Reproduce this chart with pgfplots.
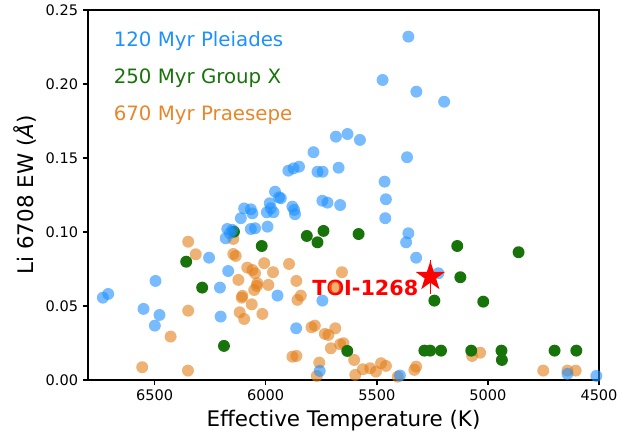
\documentclass[border=0pt]{standalone}
\usepackage{pgfplots}
\pgfplotsset{compat=1.18}
\usepackage{fontspec}
\setmainfont{DejaVu Sans}

\definecolor{pleiades}{RGB}{30,144,255}
\definecolor{groupx}{RGB}{24,116,10}
\definecolor{praesepe}{RGB}{226,126,24}
\definecolor{praesepetext}{RGB}{232,134,42}

% filled five-point star, like matplotlib's '*'
\pgfdeclareplotmark{fstar}{%
  \pgfpathmoveto{\pgfpointpolar{90}{\pgfplotmarksize}}%
  \pgfpathlineto{\pgfpointpolar{126}{0.382\pgfplotmarksize}}%
  \pgfpathlineto{\pgfpointpolar{162}{\pgfplotmarksize}}%
  \pgfpathlineto{\pgfpointpolar{198}{0.382\pgfplotmarksize}}%
  \pgfpathlineto{\pgfpointpolar{234}{\pgfplotmarksize}}%
  \pgfpathlineto{\pgfpointpolar{270}{0.382\pgfplotmarksize}}%
  \pgfpathlineto{\pgfpointpolar{306}{\pgfplotmarksize}}%
  \pgfpathlineto{\pgfpointpolar{342}{0.382\pgfplotmarksize}}%
  \pgfpathlineto{\pgfpointpolar{18}{\pgfplotmarksize}}%
  \pgfpathlineto{\pgfpointpolar{54}{0.382\pgfplotmarksize}}%
  \pgfpathclose\pgfusepathqfill}

\begin{document}
\begin{tikzpicture}
\useasboundingbox (-63.36bp,-41.76bp) rectangle (396.8bp,273.6bp);
\begin{axis}[
  scale only axis,
  width=368bp, height=266.4bp,
  x dir=reverse,
  xmin=4500, xmax=6800,
  ymin=0, ymax=0.25,
  xtick={4500,5000,5500,6000,6500},
  ytick={0,0.05,0.1,0.15,0.2,0.25},
  xtick pos=bottom, ytick pos=left,
  tick align=outside,
  major tick length=3.6bp,
  every tick/.style={black, line width=1bp},
  axis line style={line width=1.8bp},
  xticklabel style={/pgf/number format/1000 sep={}},
  yticklabel style={/pgf/number format/.cd, fixed, fixed zerofill, precision=2},
  /pgf/number format/assume math mode=true,
  tick label style={font=\fontsize{10.5}{12}\selectfont},
  label style={font=\fontsize{15.5}{18}\selectfont},
  xlabel={Effective Temperature (K)},
  ylabel={Li 6708 EW (\textit{Å})},
  mark size=4.3bp,
]

% 670 Myr Praesepe
\addplot[only marks, mark=*, mark options={fill=praesepe, fill opacity=0.6, draw opacity=0}] coordinates {
(6349,0.0934) (6315,0.0849) (6146,0.0953) (6146,0.0851) (6135,0.0838)
(6007,0.0789) (6083,0.0759) (6060,0.0743) (6048,0.0721) (5895,0.0784)
(5967,0.0728) (6123,0.0676) (5862,0.0669) (6038,0.0653) (6040,0.0635)
(6052,0.0608) (5988,0.0642) (6105,0.0568) (6108,0.0556) (5842,0.0570)
(5857,0.0541) (5657,0.0728) (5689,0.0626) (6063,0.0511) (6349,0.0468)
(6117,0.0457) (6097,0.0412) (6015,0.0446) (6428,0.0293) (5794,0.0356)
(5779,0.0367) (5687,0.0349) (5734,0.0311) (5718,0.0304) (5707,0.0214)
(5665,0.0241) (5650,0.0248) (5880,0.0157) (5862,0.0162) (5759,0.0117)
(5602,0.0135) (5770,0.0027) (5597,0.0034) (5563,0.0072) (5530,0.0079)
(5504,0.0056) (5481,0.0113) (5459,0.0095) (5323,0.0090) (5331,0.0068)
(6556,0.0086) (6350,0.0063) (5071,0.0162) (5035,0.0184) (4751,0.0063)
(4642,0.0063) (4605,0.0063) (5406,0.0022)
};

% 250 Myr Group X
\addplot[only marks, mark=*, mark options={fill=groupx, draw opacity=0}] coordinates {
(6143,0.1002) (5815,0.0973) (5767,0.0930) (5740,0.1007) (5582,0.0986)
(6018,0.0905) (6358,0.0799) (6286,0.0624) (6188,0.0230) (5633,0.0196)
(5138,0.0905) (4862,0.0863) (5124,0.0694) (5241,0.0536) (5021,0.0529)
(5286,0.0198) (5260,0.0198) (5211,0.0198) (5075,0.0198) (4939,0.0198)
(4937,0.0135) (4700,0.0198) (4602,0.0198)
};

% 120 Myr Pleiades
\addplot[only marks, mark=*, mark options={fill=pleiades, fill opacity=0.6, draw opacity=0}] coordinates {
(5358,0.2320) (5474,0.2027) (5322,0.1948) (5197,0.1880) (5684,0.1644)
(5632,0.1662) (5576,0.1622) (5785,0.1539) (5898,0.1414) (5875,0.1430)
(5850,0.1441) (5767,0.1407) (5744,0.1407) (5672,0.1434) (5364,0.1505)
(5465,0.1340) (5459,0.1221) (5958,0.1272) (5940,0.1234) (5932,0.1228)
(6097,0.1159) (6067,0.1153) (6060,0.1126) (6112,0.1093) (5982,0.1194)
(5977,0.1160) (5995,0.1133) (5965,0.1133) (5880,0.1171) (5872,0.1149)
(5868,0.1120) (5745,0.1211) (5722,0.1198) (5665,0.1182) (6173,0.1020)
(6150,0.1014) (6161,0.0991) (6180,0.0957) (6067,0.1020) (6048,0.1025)
(5992,0.1036) (6255,0.0826) (6169,0.0736) (6496,0.0669) (6206,0.0624)
(5947,0.0570) (5745,0.0536) (6733,0.0556) (6709,0.0581) (6550,0.0480)
(6478,0.0439) (6499,0.0367) (6203,0.0428) (5863,0.0349) (5757,0.0061)
(5462,0.1093) (5358,0.0991) (5368,0.0930) (5323,0.0826) (5223,0.0721)
(5396,0.0030) (4642,0.0041) (4512,0.0027)
};

% TOI-1268
\addplot[only marks, mark=fstar, mark size=11.2bp, color=red,
  error bars/.cd, y dir=both, y explicit, error mark=none,
  error bar style={red, line width=1bp}] coordinates {
(5259,0.0698) +- (0,0.0115)
};

\node[anchor=east, inner sep=0pt, text=red, font=\bfseries\fontsize{15}{18}\selectfont]
  at (axis cs:5312,0.0622) {TOI-1268};

\node[anchor=base west, inner sep=0pt, text=pleiades, font=\fontsize{14.3}{17}\selectfont]
  at (axis description cs:0.05,0.9) {120 Myr Pleiades};
\node[anchor=base west, inner sep=0pt, text=groupx, font=\fontsize{14.3}{17}\selectfont]
  at (axis description cs:0.05,0.8) {250 Myr Group X};
\node[anchor=base west, inner sep=0pt, text=praesepetext, font=\fontsize{14.3}{17}\selectfont]
  at (axis description cs:0.05,0.7) {670 Myr Praesepe};
\end{axis}
\end{tikzpicture}
\end{document}
